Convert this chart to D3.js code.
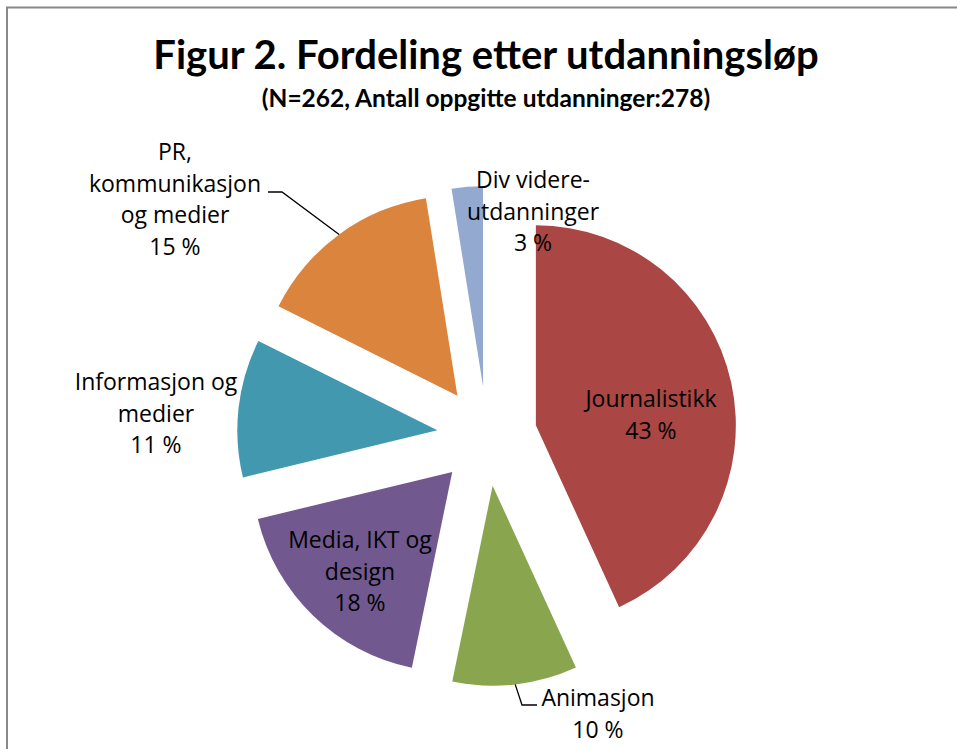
<!DOCTYPE html>
<html>
<head>
<meta charset="utf-8">
<script src="https://cdn.jsdelivr.net/npm/d3@7"></script>
<style>
  html, body { margin: 0; padding: 0; background: #fff; }
  svg { display: block; }
  text { fill: #000; }
  .title { font-family: Lato, "Open Sans", sans-serif; font-weight: bold; }
  .label { font-family: "Open Sans", Lato, sans-serif; }
</style>
</head>
<body>
<svg id="chart" width="957" height="749"></svg>
<script>
/* ── Data (counts out of 278 stated educations) ── */
const categories = ['Journalistikk', 'Animasjon', 'Media, IKT og design',
                    'Informasjon og medier', 'PR, kommunikasjon og medier',
                    'Div videreutdanninger'];
const counts     = [120, 28, 50, 31, 42, 7];
const colors     = ['#AA4643', '#89A54E', '#71588F', '#4198AF', '#DB843D', '#93A9CF'];
// label lines as shown in the chart (percentage appended below)
const labelLines = [['Journalistikk'], ['Animasjon'], ['Media, IKT og', 'design'],
                    ['Informasjon og', 'medier'], ['PR,', 'kommunikasjon', 'og medier'],
                    ['Div videre-', 'utdanninger']];

/* ── Layout ── */
const W = 957, H = 749;
const CX = 487, CY = 436;   // pie centre
const R = 200;              // slice radius
const EXPLODE = 50;         // offset of every slice along its bisector
const LINE_H = 31.5;
// label anchor (centre x, first baseline y) — placed as in the original
const labelPos = [[651, 407], [598, 706], [360, 548], [156, 390], [175, 160], [533, 188]];
// leader lines: elbow points after the arc midpoint (null = no leader)
const leaders  = [null, [[522, 705], [537, 705]], null, null, [[282, 192], [268, 192]], null];

const svg = d3.select('#chart');

/* Frame (only top + left visible in the crop) */
svg.append('path')
  .attr('d', `M7,${H} L7,7.5 L${W},7.5`)
  .attr('fill', 'none')
  .attr('stroke', '#888')
  .attr('stroke-width', 2);

/* Titles */
svg.append('text')
  .attr('class', 'title')
  .attr('x', 486).attr('y', 69)
  .attr('text-anchor', 'middle')
  .style('font-size', '40px')
  .text('Figur 2. Fordeling etter utdanningsløp');

svg.append('text')
  .attr('class', 'title')
  .attr('x', 486).attr('y', 107)
  .attr('text-anchor', 'middle')
  .style('font-size', '24.5px')
  .text('(N=262, Antall oppgitte utdanninger:278)');

/* Pie */
const total = d3.sum(counts);
const pct = d => Math.round(d / total * 100) + ' %';

const pie = d3.pie().sort(null).value(d => d);
const arcs = pie(counts);
const arc = d3.arc().innerRadius(0).outerRadius(R);

const mid = a => (a.startAngle + a.endAngle) / 2;
const offset = a => [Math.sin(mid(a)) * EXPLODE, -Math.cos(mid(a)) * EXPLODE];

const g = svg.append('g').attr('transform', `translate(${CX},${CY})`);

g.selectAll('path.slice')
  .data(arcs)
  .join('path')
  .attr('class', 'slice')
  .attr('transform', a => `translate(${offset(a)[0]},${offset(a)[1]})`)
  .attr('d', arc)
  .attr('fill', (a, i) => colors[i]);

/* Leader lines */
arcs.forEach((a, i) => {
  if (!leaders[i]) return;
  const [ox, oy] = offset(a);
  const sx = CX + ox + Math.sin(mid(a)) * R;
  const sy = CY + oy - Math.cos(mid(a)) * R;
  const pts = [[sx, sy]].concat(leaders[i]);
  svg.append('path')
    .attr('d', d3.line()(pts))
    .attr('fill', 'none')
    .attr('stroke', '#000')
    .attr('stroke-width', 1.3);
});

/* Labels */
arcs.forEach((a, i) => {
  const lines = labelLines[i].concat([pct(counts[i])]);
  const t = svg.append('text')
    .attr('class', 'label')
    .attr('text-anchor', 'middle')
    .style('font-size', '23px');
  lines.forEach((ln, k) => {
    t.append('tspan')
      .attr('x', labelPos[i][0])
      .attr('y', labelPos[i][1] + k * LINE_H)
      .text(ln);
  });
});
</script>
</body>
</html>
